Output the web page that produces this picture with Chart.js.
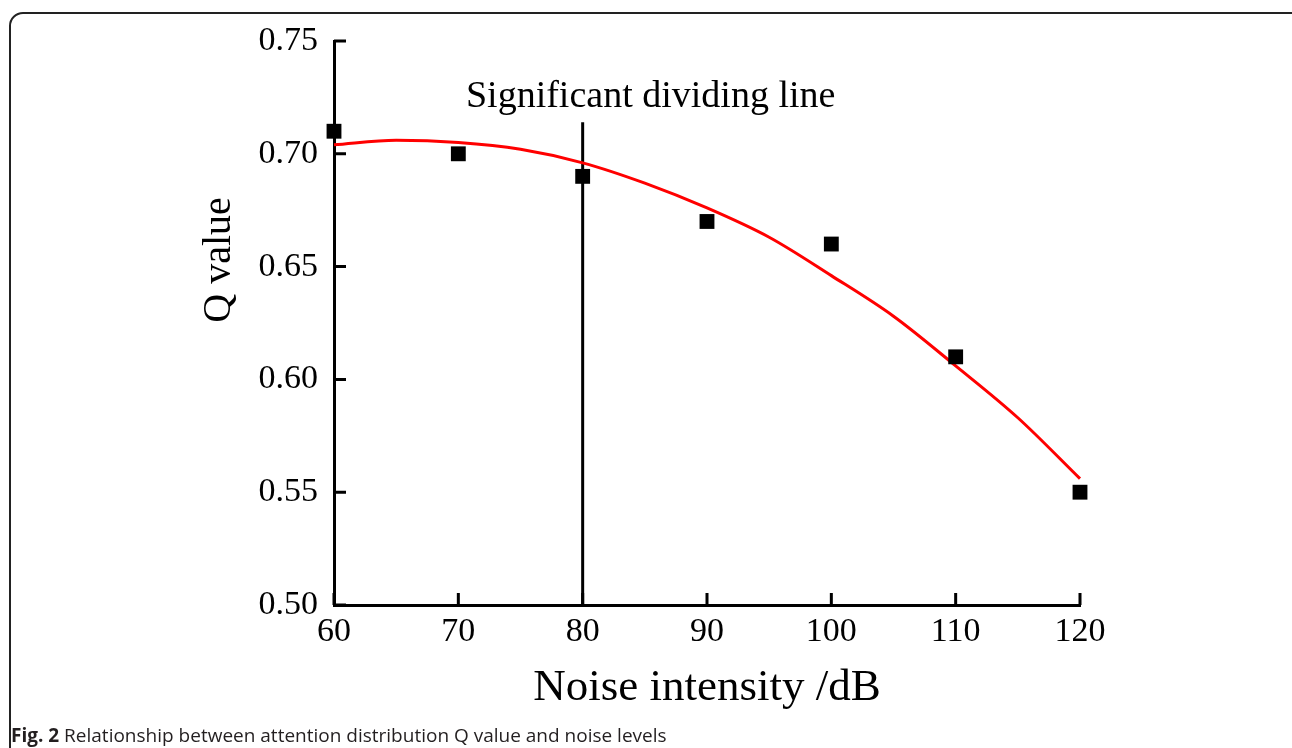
<!DOCTYPE html>
<html>
<head>
<meta charset="utf-8">
<script src="https://cdn.jsdelivr.net/npm/chart.js@4.4.0/dist/chart.umd.min.js"></script>
<style>
  html, body { margin: 0; padding: 0; background: #fff; }
  body { width: 1292px; height: 748px; position: relative; overflow: hidden; }
  #frame {
    position: absolute; left: 9px; top: 12px; width: 1300px; height: 800px;
    border: 2px solid #222; border-radius: 14px; box-sizing: border-box;
  }
  #qChart { position: absolute; left: 0; top: 0; }
  #caption {
    position: absolute; left: 11px; top: 722px;
    font-family: "Open Sans", "Noto Sans", sans-serif; font-size: 19px; color: #231f20;
    white-space: nowrap;
  }
  #caption b { font-weight: 700; }
</style>
</head>
<body>
<div id="frame"></div>
<canvas id="qChart" width="1292" height="748"></canvas>
<div id="caption"><b>Fig. 2</b> Relationship between attention distribution Q value and noise levels</div>

<script>
// measured points
const noiseLevels = [60, 70, 80, 90, 100, 110, 120];
const qValues = [0.71, 0.70, 0.69, 0.67, 0.66, 0.61, 0.55];

// red fitted curve, every 5 dB
const fitNoise = [60, 65, 70, 75, 80, 85, 90, 95, 100, 105, 110, 115, 120];
const fitQ = [0.704, 0.706, 0.705, 0.702, 0.696, 0.687, 0.676, 0.663, 0.646, 0.628, 0.606, 0.583, 0.556];

// vertical "significant dividing line"
const dividerNoise = 80;
const dividerRange = [0.50, 0.714];

const xTicks = [60, 70, 80, 90, 100, 110, 120];
const yTicks = [0.50, 0.55, 0.60, 0.65, 0.70, 0.75];

const serif = '"Liberation Serif", "Times New Roman", serif';

const toPoints = (xs, ys) => xs.map((x, i) => ({ x: x, y: ys[i] }));

// ticks point inwards, so draw them ourselves from the scales
const inwardTicks = {
    id: 'inwardTicks',
    afterDraw(chart) {
        const c = chart.ctx;
        const area = chart.chartArea;
        const xs = chart.scales.x, ys = chart.scales.y;
        const len = 12;
        c.save();
        c.strokeStyle = '#000';
        c.lineWidth = 3;
        c.beginPath();
        xTicks.forEach(v => {
            const px = xs.getPixelForValue(v);
            c.moveTo(px, area.bottom);
            c.lineTo(px, area.bottom - len);
        });
        yTicks.forEach(v => {
            const py = ys.getPixelForValue(v);
            c.moveTo(area.left, py);
            c.lineTo(area.left + len, py);
        });
        c.stroke();
        c.restore();
    }
};

const extraText = {
    id: 'extraText',
    afterDraw(chart) {
        const c = chart.ctx;
        const xs = chart.scales.x;
        c.save();
        c.fillStyle = '#000';
        c.font = '38px ' + serif;
        c.textAlign = 'center';
        c.textBaseline = 'alphabetic';
        c.fillText('Significant dividing line', xs.getPixelForValue(dividerNoise) + 68, 107);

        c.font = '40px ' + serif;
        c.translate(230, 260);
        c.rotate(-Math.PI / 2);
        c.fillText('Q value', 0, 0);
        c.restore();
    }
};

const ctx = document.getElementById('qChart').getContext('2d');

new Chart(ctx, {
    type: 'scatter',
    data: {
        datasets: [
            {
                label: 'Q value',
                data: toPoints(noiseLevels, qValues),
                pointStyle: 'rect',
                pointRadius: 10.5,
                pointHoverRadius: 10.5,
                backgroundColor: '#000',
                borderColor: '#000',
                borderWidth: 0,
                clip: false
            },
            {
                label: 'Fit',
                data: toPoints(fitNoise, fitQ),
                showLine: true,
                borderColor: '#ff0000',
                borderWidth: 3,
                pointRadius: 0,
                cubicInterpolationMode: 'monotone',
                fill: false,
                clip: false
            },
            {
                label: 'Divider',
                data: toPoints([dividerNoise, dividerNoise], dividerRange),
                showLine: true,
                borderColor: '#000',
                borderWidth: 3,
                pointRadius: 0,
                fill: false,
                clip: false
            }
        ]
    },
    options: {
        responsive: false,
        devicePixelRatio: 1,
        animation: false,
        layout: { padding: { left: 0, right: 212, top: 41, bottom: 0 } },
        plugins: {
            legend: { display: false },
            tooltip: { enabled: false }
        },
        scales: {
            x: {
                type: 'linear',
                min: 60,
                max: 120,
                afterFit: s => { s.height = 143; },
                afterBuildTicks: s => { s.ticks = xTicks.map(v => ({ value: v })); },
                grid: { display: false, drawTicks: false },
                border: { display: true, color: '#000', width: 3 },
                ticks: {
                    color: '#000',
                    padding: 7,
                    maxRotation: 0,
                    font: { family: serif, size: 34 }
                },
                title: {
                    display: true,
                    text: 'Noise intensity /dB',
                    color: '#000',
                    font: { family: serif, size: 45 },
                    padding: { top: 0, bottom: 33 }
                }
            },
            y: {
                type: 'linear',
                min: 0.5,
                max: 0.75,
                afterFit: s => { s.width = 334; },
                afterBuildTicks: s => { s.ticks = yTicks.map(v => ({ value: v })); },
                grid: { display: false, drawTicks: false },
                border: { display: true, color: '#000', width: 3 },
                ticks: {
                    color: '#000',
                    padding: 16,
                    font: { family: serif, size: 34 },
                    callback: v => v.toFixed(2)
                }
            }
        }
    },
    plugins: [inwardTicks, extraText]
});
</script>
</body>
</html>
